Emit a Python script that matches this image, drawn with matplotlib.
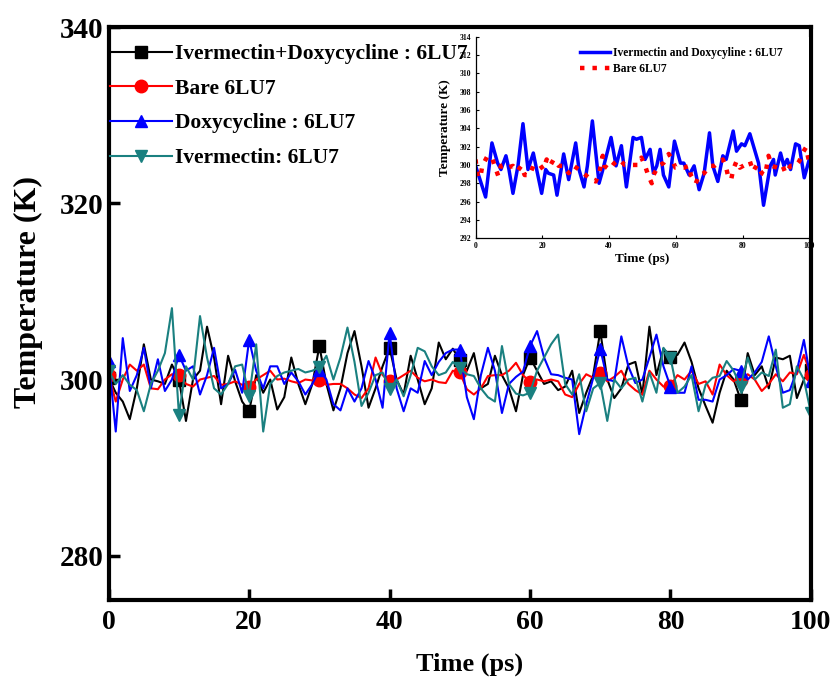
import matplotlib
matplotlib.use("Agg")
import matplotlib.pyplot as plt
import numpy as np

plt.rcParams['font.family'] = ['Liberation Serif', 'DejaVu Serif']
plt.rcParams['font.weight'] = 'bold'

# ---------------- main data ----------------
time_ps = list(range(0, 101))

iver_doxy = [300.2, 298.5, 297.5, 295.5, 299.0, 304.0, 300.0, 299.8, 299.5, 301.7,
             300.0, 295.3, 300.0, 301.0, 306.0, 302.5, 297.2, 302.7, 299.8, 297.5,
             296.4, 300.5, 298.5, 300.0, 296.6, 298.0, 302.5, 299.5, 297.2, 299.5,
             303.8, 299.5, 296.5, 299.0, 303.0, 305.5, 301.5, 296.8, 299.0, 301.5,
             303.6, 300.0, 298.3, 302.7, 300.0, 297.2, 299.0, 304.2, 302.3, 303.5,
             302.2, 301.0, 303.0, 299.0, 299.5, 302.7, 300.5, 299.0, 296.4, 300.5,
             302.5, 301.0, 299.5, 299.8, 298.8, 299.2, 301.0, 296.2, 298.5, 300.5,
             305.5, 300.0, 297.9, 299.0, 301.7, 302.0, 298.3, 306.0, 300.5, 303.5,
             302.6, 302.8, 304.2, 302.0, 299.0, 297.0, 295.1, 298.5, 301.0, 300.0,
             297.7, 303.0, 300.5, 301.5, 299.0, 302.5, 302.3, 302.7, 297.9, 300.0,
             301.1]

bare = [300.5, 297.5, 300.0, 301.7, 301.0, 301.7, 299.0, 298.9, 300.0, 300.6,
        300.5, 299.5, 299.2, 300.0, 300.2, 300.4, 299.4, 299.5, 299.8, 299.4,
        299.2, 300.0, 300.5, 301.0, 300.0, 300.1, 299.8, 299.6, 300.0, 299.9,
        300.0, 299.4, 299.5, 299.5, 299.0, 298.3, 297.9, 299.0, 302.5, 300.5,
        299.8, 300.0, 300.5, 301.0, 300.2, 299.8, 300.0, 299.7, 299.6, 301.0,
        300.8, 298.9, 298.3, 299.0, 300.4, 300.5, 300.5, 301.0, 301.9, 300.5,
        299.7, 300.0, 299.8, 300.0, 299.8, 298.3, 298.0, 299.5, 300.6, 300.2,
        300.7, 299.8, 300.3, 301.0, 299.5, 298.8, 298.3, 301.0, 300.0, 299.2,
        299.3, 300.5, 300.0, 301.0, 299.5, 299.8, 298.3, 301.7, 300.5, 299.8,
        300.0, 300.6, 300.0, 298.7, 299.5, 300.6, 299.8, 300.8, 300.6, 302.8,
        300.5]

doxy = [302.1, 294.1, 304.7, 298.7, 300.5, 303.6, 299.0, 302.3, 298.7, 300.0,
        302.8, 301.0, 301.5, 298.3, 300.5, 303.6, 299.0, 299.5, 301.1, 298.5,
        304.5, 301.0, 299.0, 301.5, 301.5, 299.5, 300.8, 299.8, 298.3, 299.5,
        301.1, 300.0, 297.2, 296.5, 299.0, 297.5, 299.0, 302.1, 300.0, 296.8,
        305.3, 299.0, 296.4, 299.0, 298.5, 302.1, 300.5, 302.0, 303.0, 303.4,
        303.4, 298.0, 295.5, 300.5, 303.6, 301.0, 296.2, 299.5, 300.3, 300.9,
        303.8, 305.5, 302.5, 300.6, 300.5, 300.2, 300.0, 293.8, 297.2, 300.2,
        303.5, 300.0, 299.8, 304.9, 301.5, 299.6, 300.0, 302.5, 305.1, 301.5,
        299.2, 298.5, 298.5, 301.5, 297.7, 297.7, 297.5, 300.0, 300.5, 301.2,
        301.0, 300.0, 300.8, 302.0, 304.9, 301.5, 298.5, 298.8, 301.0, 304.5,
        299.8]

iver = [301.0, 299.5, 300.5, 299.4, 298.8, 296.4, 299.5, 301.0, 303.0, 308.1,
        296.0, 301.5, 300.0, 307.2, 302.5, 299.0, 298.3, 299.5, 301.5, 301.7,
        298.1, 304.0, 294.1, 299.5, 300.4, 300.8, 301.0, 301.2, 300.8, 301.0,
        301.4, 302.7, 300.0, 302.5, 305.9, 302.0, 297.0, 298.5, 300.5, 300.8,
        298.9, 300.0, 298.1, 300.5, 303.6, 303.2, 301.5, 300.5, 300.8, 302.0,
        301.3, 300.6, 300.4, 299.0, 298.0, 297.5, 303.8, 299.5, 298.4, 298.2,
        298.5, 301.0, 302.5, 304.0, 305.1, 299.5, 298.3, 300.6, 296.4, 299.0,
        299.6, 295.3, 300.0, 299.0, 300.0, 300.2, 297.5, 300.8, 298.5, 303.6,
        302.5, 298.5, 299.2, 300.5, 296.4, 299.4, 300.2, 300.4, 302.1, 301.0,
        299.2, 302.5, 300.0, 300.8, 300.4, 303.4, 296.8, 297.2, 301.5, 300.0,
        296.2]

labels = ["Ivermectin+Doxycycline : 6LU7", "Bare 6LU7",
          "Doxycycline : 6LU7", "Ivermectin: 6LU7"]
colors = ["black", "red", "blue", "#1a8080"]
markers = ["s", "o", "^", "v"]

# ---------------- inset data ----------------
inset_blue_t = [0, 3.0, 4.9, 6.6, 7.6, 9.1, 10.0, 11.2, 12.7, 14.2, 15.7, 17.3, 18.3, 19.8,
                21.0, 21.8, 23.4, 24.4, 26.4, 27.9, 30.0, 31.0, 32.5, 33.5, 35.0, 37.0,
                38.0, 40.6, 42.1, 43.7, 45.2, 47.2, 48.2, 49.7, 50.8, 52.3, 53.3, 54.3,
                55.3, 56.3, 57.9, 59.6, 61.4, 62.4, 64.0, 65.5, 67.0, 68.5, 70.1, 71.1,
                72.6, 74.1, 75.1, 77.2, 78.2, 79.7, 80.7, 82.2, 84.8, 86.3, 88.3, 89.3,
                89.8, 91.4, 92.4, 93.4, 94.4, 95.9, 97.0, 98.5, 100.0]
inset_blue_T = [299.9, 296.5, 302.4, 300.2, 299.5, 301.0, 299.5, 296.9, 299.9, 304.5, 299.5,
                301.3, 299.5, 296.9, 299.5, 299.1, 298.9, 296.7, 301.2, 298.4, 302.4, 299.5,
                297.6, 299.9, 304.8, 298.0, 299.3, 303.0, 299.9, 302.1, 297.6, 303.0, 302.8,
                303.0, 300.6, 301.7, 299.1, 299.9, 301.7, 298.9, 297.6, 302.6, 300.2, 300.2,
                298.9, 299.9, 297.3, 299.1, 303.5, 299.9, 298.2, 301.0, 300.6, 303.7, 301.5,
                302.3, 302.1, 303.4, 300.2, 295.6, 299.9, 300.6, 298.9, 301.3, 299.9, 300.6,
                299.5, 302.3, 302.1, 298.6, 300.6]

inset_red_t = [0, 0.3, 0.7, 1.5, 2.0, 3.6, 5.1, 6.1, 6.8, 7.6, 8.6, 9.6, 11.2, 12.5, 13.7,
               14.7, 16.2, 17.3, 18.3, 19.3, 20.3, 21.3, 22.3, 23.4, 24.9, 26.4, 27.9, 29.4,
               31.0, 33.0, 34.5, 36.0, 37.1, 37.6, 38.1, 38.6, 40.1, 41.6, 43.1, 44.7, 46.7,
               48.7, 49.7, 50.8, 51.8, 52.8, 53.3, 54.8, 56.3, 57.9, 58.9, 59.9, 61.4, 62.4,
               64.0, 64.5, 66.0, 67.0, 68.5, 70.1, 71.6, 72.6, 74.1, 75.1, 75.6, 76.6, 77.2,
               78.2, 79.2, 80.7, 82.2, 83.2, 84.3, 85.8, 86.8, 87.8, 88.8, 90.4, 91.9, 92.9,
               94.4, 95.9, 97.0, 98.0, 99.0, 99.8]
inset_red_T = [300.6, 299.5, 298.6, 298.8, 299.9, 301.0, 300.6, 299.5, 298.8, 299.9, 300.0,
               299.7, 299.9, 299.3, 299.9, 298.9, 298.9, 299.9, 299.9, 300.0, 299.5, 300.6,
               299.9, 300.6, 299.9, 299.9, 299.1, 299.9, 299.5, 298.9, 298.4, 298.2, 299.1,
               300.2, 301.0, 299.9, 299.5, 300.2, 300.6, 300.0, 300.0, 300.0, 300.8, 299.9,
               298.8, 298.0, 298.9, 299.9, 300.2, 301.2, 300.6, 299.7, 299.7, 299.7, 299.9,
               298.9, 298.0, 298.9, 299.1, 299.9, 299.9, 300.2, 300.6, 299.7, 298.9, 298.4,
               299.5, 300.4, 299.7, 300.0, 300.4, 299.3, 300.0, 299.1, 298.9, 301.0, 299.9,
               299.7, 300.0, 299.1, 299.9, 299.9, 300.4, 301.3, 301.9, 300.6]

inset_labels = ["Ivermectin and Doxycyline : 6LU7", "Bare 6LU7"]

# ---------------- figure ----------------
fig = plt.figure(figsize=(8.3, 6.77), dpi=100)
ax = fig.add_axes([0.131, 0.114, 0.846, 0.846])

for series, lab, c, m in zip([iver_doxy, bare, doxy, iver], labels, colors, markers):
    ax.plot(time_ps, series, color=c, lw=1.5, marker=m, markevery=10,
            markersize=9, label=lab)

ax.set_xlim(0, 100)
ax.set_ylim(275, 340)
ax.set_xticks([0, 20, 40, 60, 80, 100])
ax.set_yticks([280, 300, 320, 340])
ax.tick_params(direction='in', length=8, width=2.5)
ax.tick_params(axis='y', pad=4, labelsize=21)
ax.tick_params(axis='x', pad=7, labelsize=20)
for s in ax.spines.values():
    s.set_linewidth(3)
for lab in ax.get_xticklabels() + ax.get_yticklabels():
    lab.set_fontweight('bold')
ax.set_xlabel("Time (ps)", fontsize=19, fontweight='bold')
ax.set_ylabel("Temperature (K)", fontsize=23, fontweight='bold')
ax.xaxis.set_label_coords(0.514, -0.092)
ax.yaxis.set_label_coords(-0.093, 0.537)

leg = ax.legend(loc='upper left', bbox_to_anchor=(-0.005, 0.978), frameon=False,
                prop={'family': 'Liberation Serif', 'weight': 'bold', 'size': 15.5},
                handlelength=2.9, handletextpad=0.15, labelspacing=0.68,
                borderaxespad=0.0, borderpad=0.2)

# ---------------- inset ----------------
ins = fig.add_axes([0.573, 0.648, 0.402, 0.298])
ins.plot(inset_blue_t, inset_blue_T, color='blue', lw=2.5, label=inset_labels[0],
         solid_joinstyle='round')
ins.plot(inset_red_t, inset_red_T, color='red', lw=3.2, ls=(0, (1, 1.8)),
         dash_capstyle='butt', label=inset_labels[1])
ins.set_xlim(0, 100)
ins.set_ylim(292, 314)
ins.set_xticks([0, 20, 40, 60, 80, 100])
ins.set_yticks(list(range(292, 315, 2)))
ins.tick_params(direction='in', length=2, width=0.8, labelsize=5.5, pad=3)
for lab in ins.get_xticklabels() + ins.get_yticklabels():
    lab.set_fontweight('bold')
ins.spines['top'].set_visible(False)
ins.spines['right'].set_visible(False)
for s in ['left', 'bottom']:
    ins.spines[s].set_linewidth(0.9)
ins.set_xlabel("Time (ps)", fontsize=9.5, fontweight='bold', labelpad=2)
ins.set_ylabel("Temperature (K)", fontsize=9.5, fontweight='bold', labelpad=3)
ins.yaxis.set_label_coords(-0.075, 0.55)
ins.legend(loc='upper right', bbox_to_anchor=(0.95, 1.0), frameon=False,
           prop={'family': 'Liberation Serif', 'weight': 'bold', 'size': 8.3},
           handlelength=2.6, handletextpad=0.2, labelspacing=0.35)

fig.savefig("out.png", dpi=100)
